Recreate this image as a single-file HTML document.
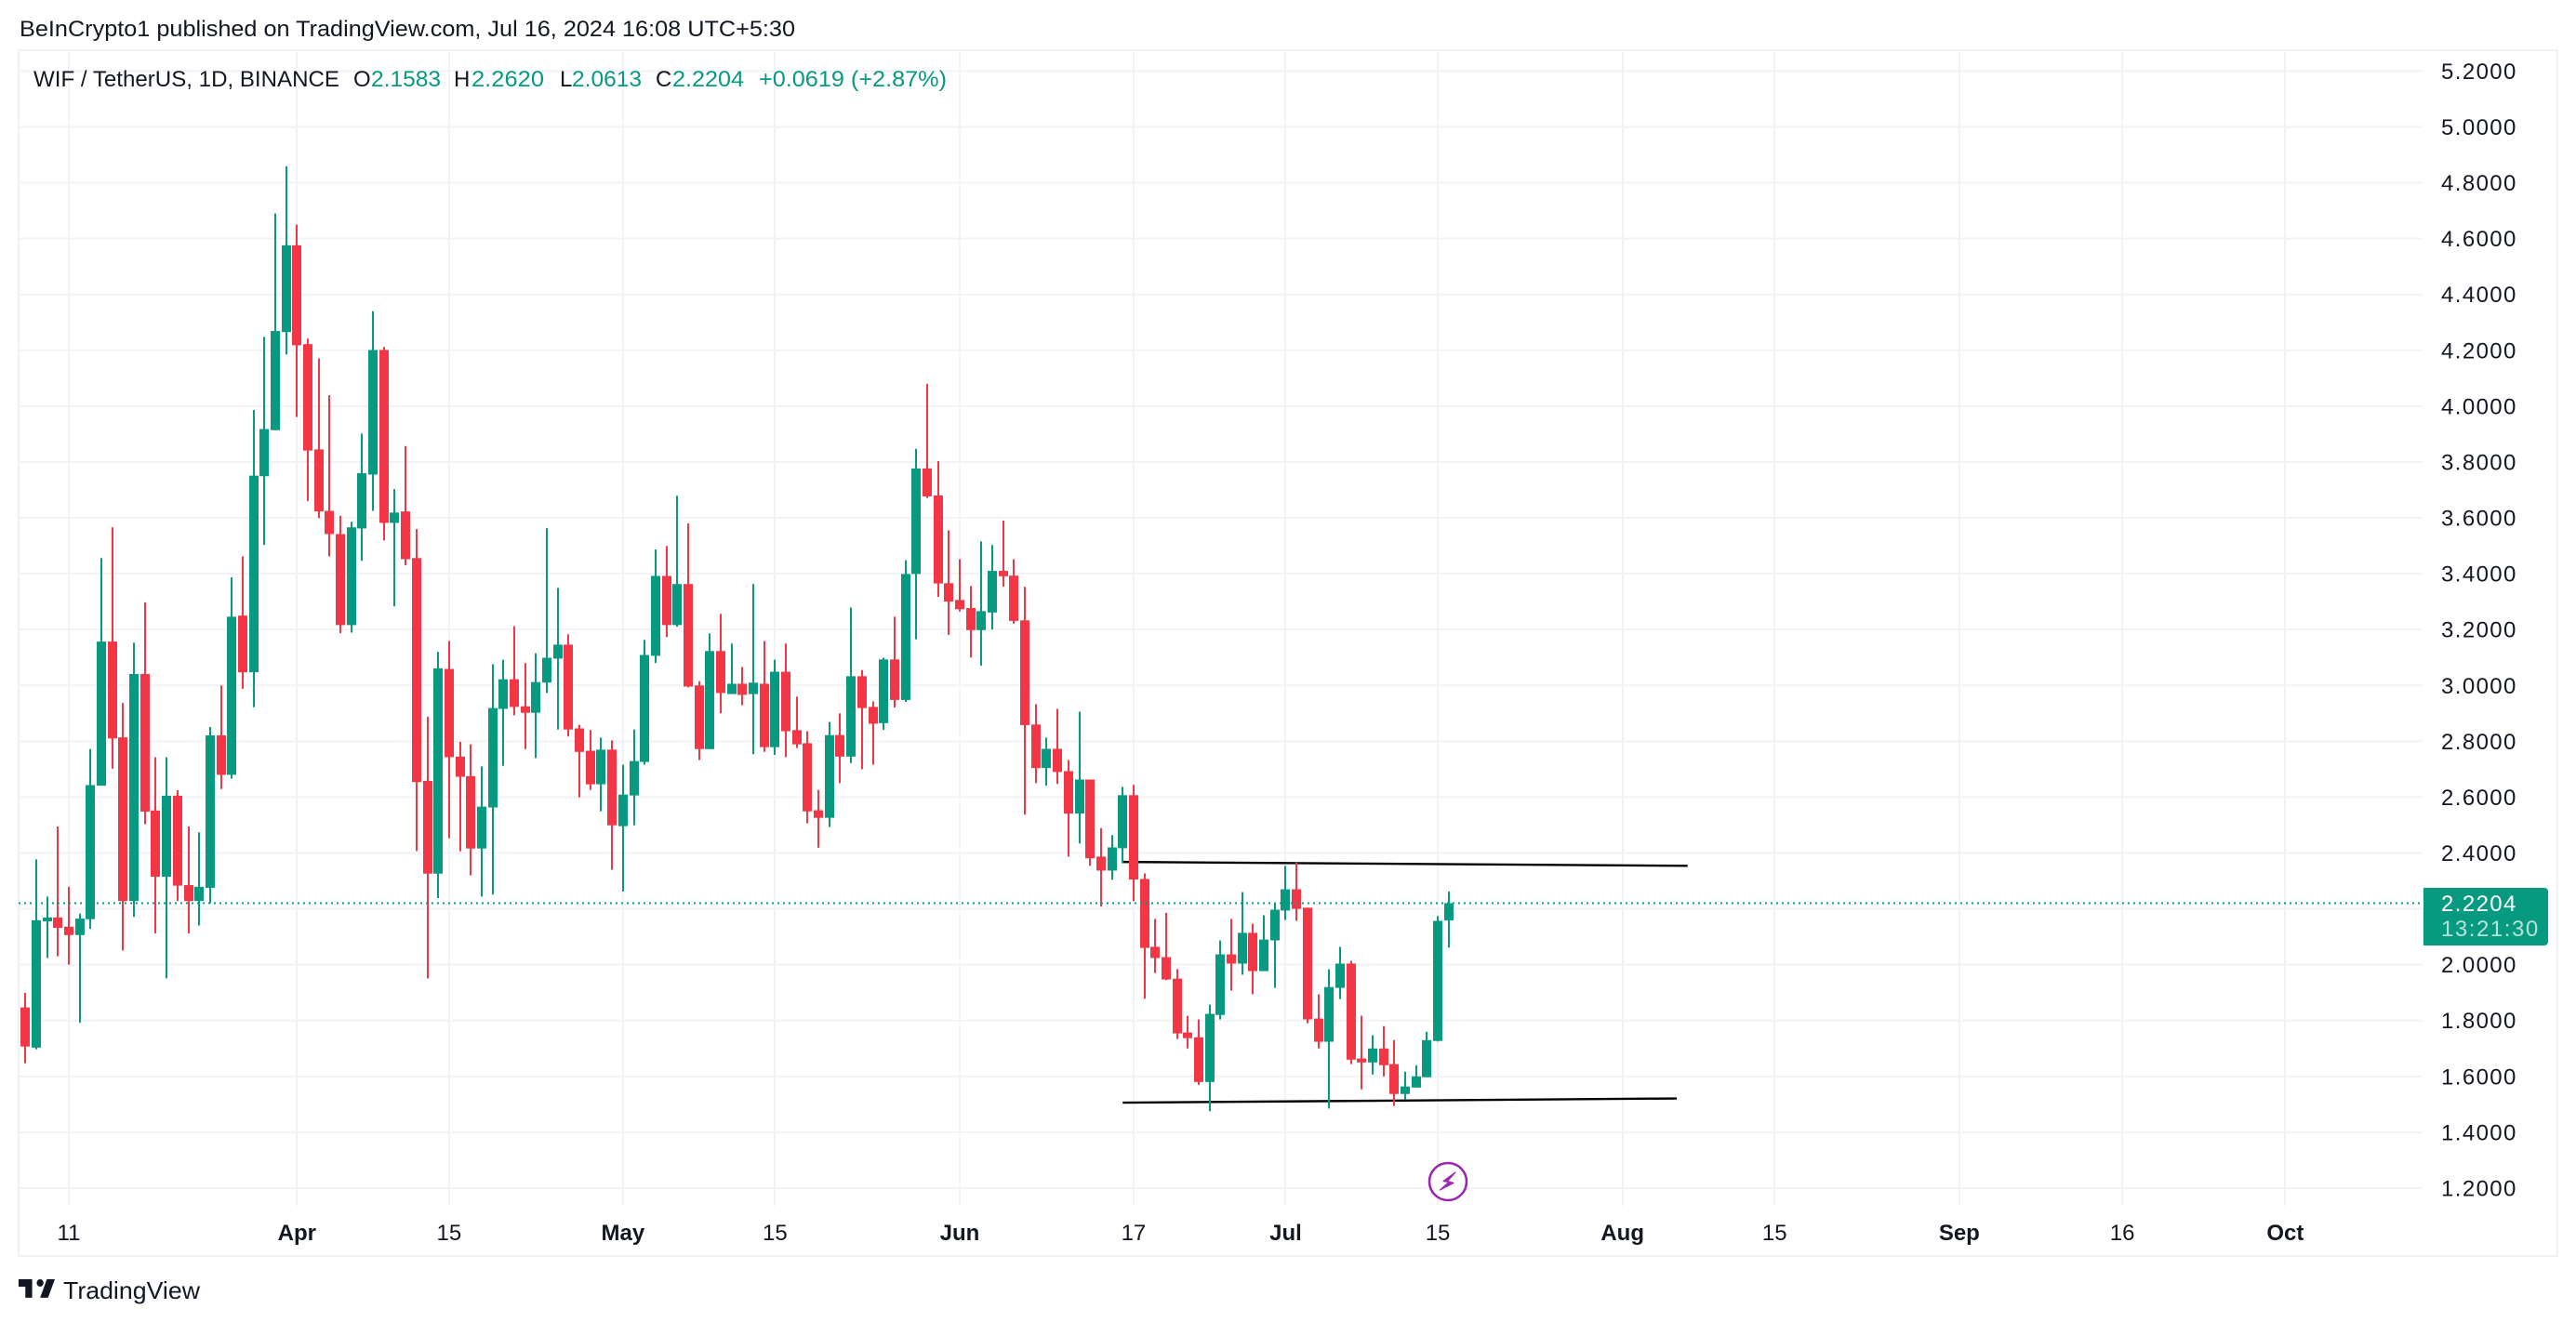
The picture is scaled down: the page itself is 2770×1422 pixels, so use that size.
<!DOCTYPE html>
<html lang="en">
<head>
<meta charset="utf-8">
<title>WIF / TetherUS chart</title>
<style>
html,body{margin:0;padding:0;background:#fff;width:2770px;height:1422px;overflow:hidden}
svg{display:block;font-family:"Liberation Sans",sans-serif}
</style>
</head>
<body>
<svg id="chart" xmlns="http://www.w3.org/2000/svg" width="2770" height="1422" viewBox="0 0 2770 1422">
  <rect x="0" y="0" width="2770" height="1422" fill="#ffffff"/>
  <text x="21" y="39" font-size="24" fill="#131722" textLength="834" lengthAdjust="spacingAndGlyphs">BeInCrypto1 published on TradingView.com, Jul 16, 2024 16:08 UTC+5:30</text>
  <rect x="20" y="54" width="2730" height="1297" fill="none" stroke="#eff1f4" stroke-width="2"/>
  <g id="grid"></g>
  <g id="trends"></g>
  <g id="candles"></g>
  <g id="priceline"></g>
  <g font-size="24">
    <text x="36" y="93" fill="#131722" textLength="329" lengthAdjust="spacingAndGlyphs">WIF / TetherUS, 1D, BINANCE</text>
    <text x="380" y="93" fill="#131722">O</text>
    <text x="399" y="93" fill="#089981" textLength="75" lengthAdjust="spacingAndGlyphs">2.1583</text>
    <text x="488" y="93" fill="#131722">H</text>
    <text x="507" y="93" fill="#089981" textLength="78" lengthAdjust="spacingAndGlyphs">2.2620</text>
    <text x="602" y="93" fill="#131722">L</text>
    <text x="615" y="93" fill="#089981" textLength="75" lengthAdjust="spacingAndGlyphs">2.0613</text>
    <text x="705" y="93" fill="#131722">C</text>
    <text x="723" y="93" fill="#089981" textLength="77" lengthAdjust="spacingAndGlyphs">2.2204</text>
    <text x="816" y="93" fill="#089981" textLength="202" lengthAdjust="spacingAndGlyphs">+0.0619 (+2.87%)</text>
  </g>
  <g id="yaxis"></g>
  <g id="xaxis"></g>
  <g>
    <path d="M2606 955H2736a4 4 0 0 1 4 4V1013a4 4 0 0 1-4 4H2606Z" fill="#089981"/>
    <text x="2625" y="980" font-size="24" letter-spacing="1.4" fill="#ffffff">2.2204</text>
    <text x="2625" y="1007" font-size="24" letter-spacing="1.55" fill="#b5e2d9">13:21:30</text>
  </g>
  <g>
    <circle cx="1557" cy="1271" r="20" fill="#ffffff" stroke="#9c27b0" stroke-width="2.6"/>
    <path d="M1565 1261L1552 1270.5L1558 1271.5L1548.5 1280L1563 1272.5L1556.5 1270.5Z" fill="#9c27b0" stroke="#9c27b0" stroke-width="1.2" stroke-linejoin="round"/>
  </g>
  <g>
    <path transform="translate(17.5 1368) scale(1.22 1.33)" d="M14 6H2v6h6v9h6V6zm14 15h-7l6-15h7l-6 15zm-7-9a3 3 0 1 0 0-6 3 3 0 0 0 0 6z" fill="#131722"/>
    <text x="68" y="1397" font-size="26" fill="#131722" textLength="147" lengthAdjust="spacingAndGlyphs">TradingView</text>
  </g>
</svg>
<script>
const firstDate = '2024-03-07';
const opens = [1.847,1.703,2.155,2.169,2.136,2.106,2.163,2.641,3.157,2.814,2.228,3.041,2.552,2.315,2.605,2.285,2.228,2.275,2.821,2.68,3.25,3.047,3.749,3.914,4.265,4.576,4.222,3.845,3.625,3.542,3.216,3.562,3.755,4.201,3.582,3.623,3.456,2.658,2.326,3.059,2.745,2.675,2.416,2.563,2.916,3.022,2.925,2.902,3.01,3.096,3.146,2.846,2.766,2.646,2.77,2.496,2.606,2.726,3.106,3.392,3.216,3.363,3.0,2.772,3.123,2.969,3.006,2.969,3.006,2.779,3.049,2.84,2.793,2.553,2.526,2.822,2.745,3.033,2.923,2.865,3.093,2.948,3.399,3.777,3.68,3.366,3.306,3.277,3.198,3.261,3.41,3.393,3.233,2.86,2.704,2.773,2.693,2.541,2.663,2.387,2.337,2.417,2.607,2.307,2.064,2.027,1.95,1.757,1.74,1.58,1.82,2.037,2.004,2.114,1.977,2.087,2.194,2.27,2.204,1.807,1.724,1.917,2.004,1.664,1.65,1.70,1.644,1.537,1.56,1.597,1.727,2.1583];
const highs = [1.899,2.377,2.244,2.495,2.279,2.183,2.772,3.456,3.566,2.937,3.153,3.297,2.743,2.743,2.625,2.495,2.474,2.851,3.0,3.387,3.462,3.986,4.248,4.69,4.859,4.65,4.242,4.171,4.039,3.607,3.586,3.902,4.34,4.212,3.703,3.857,3.56,2.888,3.12,3.159,2.798,2.789,2.71,3.076,3.092,3.212,3.08,3.115,3.563,3.349,3.183,2.859,2.84,2.813,2.803,2.716,2.842,3.163,3.487,3.499,3.679,3.58,3.015,3.186,3.256,3.15,3.066,3.363,3.159,3.092,3.15,2.96,2.836,2.626,2.869,2.9,3.279,3.055,2.943,3.099,3.246,3.448,3.847,4.08,3.803,3.555,3.452,3.356,3.516,3.503,3.59,3.452,3.353,2.933,2.813,2.916,2.733,2.906,2.663,2.489,2.464,2.637,2.644,2.327,2.164,2.186,1.984,1.817,1.804,1.857,2.087,2.164,2.26,2.147,2.177,2.218,2.354,2.366,2.204,1.894,1.984,2.064,2.014,1.817,1.747,1.78,1.73,1.617,1.64,1.76,2.174,2.262];
const lows = [1.647,1.697,2.024,2.03,2.0,1.792,2.128,2.641,2.702,2.051,2.171,2.503,2.112,1.951,2.228,2.112,2.14,2.22,2.629,2.666,2.988,2.922,3.503,3.914,4.185,3.961,3.66,3.599,3.462,3.187,3.189,3.446,3.625,3.519,3.283,3.43,2.407,1.951,2.238,2.453,2.406,2.32,2.244,2.251,2.712,2.893,2.772,2.74,2.973,2.842,2.817,2.599,2.626,2.549,2.34,2.262,2.499,2.716,3.08,3.173,3.21,2.993,2.733,2.772,2.9,2.969,2.929,2.754,2.762,2.751,2.743,2.776,2.506,2.419,2.493,2.65,2.722,2.7,2.716,2.841,2.921,2.941,3.165,3.671,3.317,3.181,3.265,3.1,3.071,3.2,3.354,3.221,2.537,2.65,2.641,2.647,2.387,2.434,2.354,2.208,2.304,2.363,2.227,1.878,1.97,1.945,1.734,1.70,1.57,1.475,1.804,1.907,1.964,1.894,1.977,1.917,2.16,2.157,1.79,1.70,1.485,1.877,1.644,1.554,1.607,1.60,1.494,1.517,1.56,1.597,1.725,2.0613];
const closes = [1.707,2.159,2.169,2.132,2.106,2.165,2.643,3.157,2.81,2.228,3.041,2.548,2.315,2.605,2.283,2.228,2.279,2.821,2.68,3.246,3.047,3.751,3.918,4.269,4.576,4.218,3.841,3.623,3.542,3.216,3.566,3.76,4.201,3.582,3.619,3.452,2.654,2.326,3.061,2.743,2.673,2.416,2.566,2.919,3.022,2.923,2.902,3.012,3.099,3.146,2.842,2.762,2.646,2.77,2.499,2.609,2.729,3.109,3.392,3.216,3.363,2.996,2.772,3.123,2.973,3.006,2.966,3.01,2.779,3.049,2.836,2.789,2.549,2.526,2.822,2.745,3.033,2.919,2.863,3.093,2.948,3.399,3.777,3.677,3.365,3.30,3.273,3.198,3.266,3.41,3.391,3.231,2.858,2.704,2.773,2.69,2.541,2.663,2.381,2.337,2.42,2.607,2.305,2.06,2.024,1.947,1.754,1.737,1.58,1.824,2.037,2.004,2.114,1.977,2.09,2.197,2.27,2.2,1.804,1.724,1.92,2.004,1.66,1.65,1.70,1.64,1.537,1.564,1.60,1.73,2.157,2.2204];
const lastPrice = 2.2204;
const priceTicks = ['5.2000','5.0000','4.8000','4.6000','4.4000','4.2000','4.0000','3.8000','3.6000','3.4000','3.2000','3.0000','2.8000','2.6000','2.4000','2.0000','1.8000','1.6000','1.4000','1.2000'];
const gridPrices = [5.2,5.0,4.8,4.6,4.4,4.2,4.0,3.8,3.6,3.4,3.2,3.0,2.8,2.6,2.4,2.2,2.0,1.8,1.6,1.4,1.2];
const tickDates = ['2024-03-11','2024-04-01','2024-04-15','2024-05-01','2024-05-15','2024-06-01','2024-06-17','2024-07-01','2024-07-15','2024-08-01','2024-08-15','2024-09-01','2024-09-16','2024-10-01'];
const tickLabels = ['11','Apr','15','May','15','Jun','17','Jul','15','Aug','15','Sep','16','Oct'];
const upperTrendDates = ['2024-06-16','2024-08-07'];
const upperTrendPrices = [2.368,2.354];
const lowerTrendDates = ['2024-06-16','2024-08-06'];
const lowerTrendPrices = [1.506,1.521];

const SVGNS = 'http://www.w3.org/2000/svg';
const UP = '#089981';
const DOWN = '#f23645';
const GRID = '#f2f3f6';
function yOf(p){ return 917.5 + (2.4 - p) * 300.4; }
function xOfIndex(i){ return 27.27 + 11.683 * i; }
function dayIndex(d){ return Math.round((Date.parse(d + 'T00:00:00Z') - Date.parse(firstDate + 'T00:00:00Z')) / 86400000); }
function xOfDate(d){ return xOfIndex(dayIndex(d)); }
function make(tag, parent, attrs){
  const el = document.createElementNS(SVGNS, tag);
  for (const k in attrs) el.setAttribute(k, attrs[k]);
  parent.appendChild(el);
  return el;
}

const gridG = document.getElementById('grid');
gridPrices.forEach(function(p){
  const el = make('line', gridG, {x1:20, x2:2605, y1:yOf(p), y2:yOf(p), stroke:GRID, 'stroke-width':2});
  
  
});
tickDates.forEach(function(d){
  const x = Math.round(xOfDate(d));
  const el = make('line', gridG, {x1:x, x2:x, y1:54, y2:1297, stroke:GRID, 'stroke-width':2});
  
  
});

const trendG = document.getElementById('trends');
const upperLine = make('line', trendG, {x1:xOfDate(upperTrendDates[0]), y1:yOf(upperTrendPrices[0]), x2:xOfDate(upperTrendDates[1]), y2:yOf(upperTrendPrices[1]), stroke:'#000000', 'stroke-width':2.4});


const lowerLine = make('line', trendG, {x1:xOfDate(lowerTrendDates[0]), y1:yOf(lowerTrendPrices[0]), x2:xOfDate(lowerTrendDates[1]), y2:yOf(lowerTrendPrices[1]), stroke:'#000000', 'stroke-width':2.4});



const candleG = document.getElementById('candles');
closes.forEach(function(c, i){
  const o = opens[i];
  const color = c >= o ? UP : DOWN;
  const cx = Math.round(xOfIndex(i));
  const g = make('g', candleG, {});
  
  
  const wick = make('rect', g, {x:cx - 1, y:yOf(highs[i]), width:2, height:Math.max(1, yOf(lows[i]) - yOf(highs[i])), fill:color});
  
  
  const top = yOf(Math.max(o, c));
  const bot = yOf(Math.min(o, c));
  const body = make('rect', g, {x:cx - 5, y:top, width:10, height:Math.max(2, bot - top), fill:color});
  
  
});

const plG = document.getElementById('priceline');
const dotted = make('line', plG, {x1:20, x2:2605, y1:yOf(lastPrice), y2:yOf(lastPrice), stroke:UP, 'stroke-width':2, 'stroke-dasharray':'2 4'});



const yG = document.getElementById('yaxis');
priceTicks.forEach(function(t){
  const el = make('text', yG, {x:2625, y:yOf(parseFloat(t)) + 8.5, 'font-size':24, fill:'#131722', 'letter-spacing':1.4});
  
  
  el.textContent = t;
});

const xG = document.getElementById('xaxis');
tickLabels.forEach(function(t, i){
  const isMonth = isNaN(parseInt(t, 10));
  const el = make('text', xG, {x:xOfDate(tickDates[i]), y:1334, 'font-size':24, fill:'#131722', 'text-anchor':'middle', 'font-weight':isMonth ? 'bold' : 'normal'});
  
  
  el.textContent = t;
});
</script>
</body>
</html>
